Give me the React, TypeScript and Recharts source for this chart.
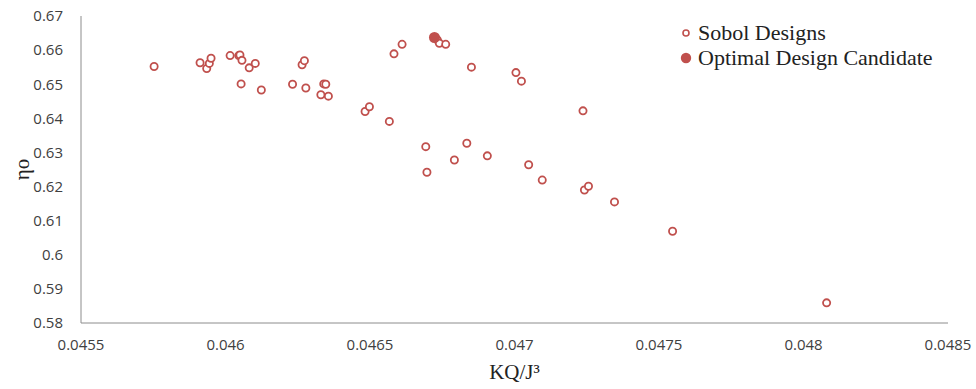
import { ScatterChart, Scatter, XAxis, YAxis } from 'recharts'

// Sobol designs: KQ/J^3 vs open-water efficiency
const sobolKQ = [
  0.045753, 0.045912, 0.045935, 0.045944, 0.04595, 0.046016, 0.046046, 0.04605,
  0.046057, 0.046082, 0.046103, 0.046054, 0.046124, 0.046232, 0.046265, 0.046273,
  0.046278, 0.04634, 0.046347, 0.04633, 0.046356, 0.046483, 0.046498, 0.046567,
  0.046583, 0.046611, 0.046733, 0.04674, 0.046762, 0.046851, 0.047005, 0.047024,
  0.047237, 0.046693, 0.046835, 0.046792, 0.046906, 0.046697, 0.047049, 0.047096,
  0.047242, 0.047256, 0.047346, 0.047547, 0.04808,
]
const sobolEta = [
  0.6552, 0.6563, 0.6546, 0.6561, 0.6576, 0.6584, 0.6584, 0.6586,
  0.657, 0.6548, 0.6561, 0.6501, 0.6483, 0.65, 0.6557, 0.6569,
  0.6489, 0.6501, 0.65, 0.6469, 0.6465, 0.642, 0.6434, 0.6391,
  0.6589, 0.6617, 0.663, 0.662, 0.6617, 0.655, 0.6534, 0.6509,
  0.6422, 0.6317, 0.6327, 0.6278, 0.629, 0.6242, 0.6264, 0.6219,
  0.619, 0.6201, 0.6155, 0.6069, 0.5859,
]
const optimalKQ = [0.046723]
const optimalEta = [0.6637]

const xTicks = [0.0455, 0.046, 0.0465, 0.047, 0.0475, 0.048, 0.0485]
const yTicks = [0.58, 0.59, 0.6, 0.61, 0.62, 0.63, 0.64, 0.65, 0.66, 0.67]

const RED = '#c0504d'

const sobol = sobolKQ.map((x, i) => ({ x, y: sobolEta[i] }))
const optimal = optimalKQ.map((x, i) => ({ x, y: optimalEta[i] }))

const fmt = (v: number) => String(+v.toFixed(4))

const tickStyle = { fill: '#404040', fontSize: 15, fontFamily: 'Open Sans' }

function OpenDot(props: any) {
  return <circle cx={props.cx} cy={props.cy} r={3.6} fill="#fff" stroke={RED} strokeWidth={1.8} />
}

function FullDot(props: any) {
  return <circle cx={props.cx} cy={props.cy} r={5.5} fill={RED} />
}

function LegendBox() {
  const row = { display: 'flex', alignItems: 'center', height: 25 }
  return (
    <div
      style={{
        position: 'absolute', left: 679, top: 20,
        fontFamily: 'Liberation Serif', fontSize: 22, color: '#222',
      }}
    >
      <div style={row}>
        <svg width={14} height={14} style={{ marginRight: 5 }}>
          <circle cx={7} cy={7} r={3} fill="#fff" stroke={RED} strokeWidth={1.6} />
        </svg>
        Sobol Designs
      </div>
      <div style={row}>
        <svg width={14} height={14} style={{ marginRight: 5 }}>
          <circle cx={7} cy={7} r={5.2} fill={RED} />
        </svg>
        Optimal Design Candidate
      </div>
    </div>
  )
}

export default function App() {
  return (
    <div style={{ position: 'absolute', left: 0, top: 0, width: 976, height: 389, background: '#fff' }}>
      <ScatterChart
        width={976}
        height={389}
        margin={{ top: 16, right: 28, bottom: 0, left: 0 }}
      >
        <XAxis
          type="number"
          dataKey="x"
          domain={[0.0455, 0.0485]}
          ticks={xTicks}
          tickFormatter={fmt}
          allowDataOverflow
          height={66}
          tickLine={false}
          tickSize={0}
          tickMargin={16}
          stroke="#8c8c8c"
          tick={tickStyle}
          label={{
            value: 'KQ/J³',
            position: 'insideBottom',
            offset: 10,
            style: { fill: '#222', fontSize: 21, fontFamily: 'Liberation Serif' },
          }}
        />
        <YAxis
          type="number"
          dataKey="y"
          domain={[0.58, 0.67]}
          ticks={yTicks}
          tickFormatter={fmt}
          allowDataOverflow
          width={81}
          tickLine={false}
          tickSize={0}
          tickMargin={18}
          stroke="#8c8c8c"
          tick={tickStyle}
          label={{
            value: 'ηo',
            angle: -90,
            position: 'insideLeft',
            offset: 22,
            style: { fill: '#222', fontSize: 21, fontFamily: 'Liberation Serif', textAnchor: 'middle' },
          }}
        />
        <Scatter name="Sobol Designs" data={sobol} shape={<OpenDot />} isAnimationActive={false} />
        <Scatter name="Optimal Design Candidate" data={optimal} shape={<FullDot />} isAnimationActive={false} />
      </ScatterChart>
      <LegendBox />
    </div>
  )
}
